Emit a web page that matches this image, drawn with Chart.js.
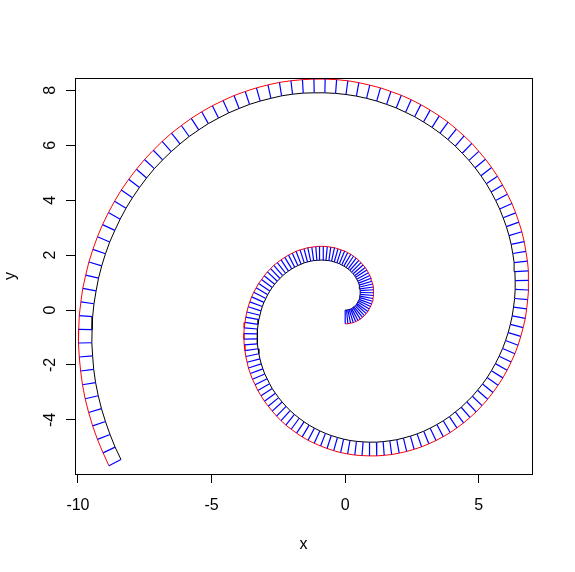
<!DOCTYPE html>
<html>
<head>
<meta charset="utf-8">
<script src="https://cdn.jsdelivr.net/npm/chart.js@4.4.1/dist/chart.umd.min.js"></script>
<style>
  html, body { margin: 0; padding: 0; background: #fff; }
  canvas { display: block; }
</style>
</head>
<body>
<canvas id="chart" width="575" height="572"></canvas>
<script>
// spiral points (black)
const spiralX = [
  0, 0.05, 0.10, 0.15, 0.20, 0.24, 0.29, 0.33, 0.37, 0.41,
  0.44, 0.47, 0.50, 0.52, 0.54, 0.55, 0.56, 0.56, 0.56, 0.55,
  0.54, 0.52, 0.50, 0.47, 0.43, 0.39, 0.35, 0.30, 0.24, 0.17,
  0.11, 0.03, -0.05, -0.13, -0.22, -0.31, -0.41, -0.51, -0.61, -0.72,
  -0.83, -0.95, -1.06, -1.18, -1.29, -1.41, -1.53, -1.65, -1.77, -1.89,
  -2.00, -2.12, -2.23, -2.34, -2.44, -2.54, -2.64, -2.73, -2.82, -2.90,
  -2.97, -3.04, -3.10, -3.15, -3.19, -3.23, -3.26, -3.28, -3.29, -3.29,
  -3.28, -3.26, -3.23, -3.19, -3.14, -3.08, -3.01, -2.92, -2.83, -2.73,
  -2.61, -2.49, -2.36, -2.21, -2.06, -1.90, -1.72, -1.54, -1.35, -1.15,
  -0.95, -0.74, -0.52, -0.29, -0.06, 0.18, 0.42, 0.67, 0.91, 1.17,
  1.42, 1.67, 1.93, 2.18, 2.44, 2.69, 2.94, 3.18, 3.43, 3.67,
  3.90, 4.12, 4.34, 4.55, 4.76, 4.95, 5.14, 5.31, 5.47, 5.62,
  5.76, 5.89, 6.00, 6.10, 6.18, 6.25, 6.30, 6.34, 6.36, 6.36,
  6.35, 6.32, 6.27, 6.21, 6.13, 6.03, 5.91, 5.78, 5.63, 5.46,
  5.28, 5.08, 4.86, 4.63, 4.38, 4.12, 3.84, 3.55, 3.25, 2.93,
  2.60, 2.26, 1.91, 1.55, 1.18, 0.80, 0.42, 0.03, -0.36, -0.76,
  -1.16, -1.57, -1.97, -2.38, -2.78, -3.18, -3.58, -3.97, -4.36, -4.74,
  -5.12, -5.48, -5.84, -6.18, -6.51, -6.83, -7.14, -7.43, -7.70, -7.96,
  -8.20, -8.42, -8.62, -8.81, -8.97, -9.11, -9.23, -9.32, -9.40, -9.45,
  -9.47, -9.48, -9.45, -9.41, -9.34, -9.24, -9.12, -8.97, -8.80, -8.61,
  -8.39
];
const spiralY = [
  0, 0.00, 0.01, 0.02, 0.04, 0.06, 0.09, 0.12, 0.16, 0.20,
  0.24, 0.29, 0.34, 0.39, 0.45, 0.51, 0.57, 0.64, 0.71, 0.77,
  0.84, 0.91, 0.98, 1.05, 1.12, 1.19, 1.25, 1.32, 1.38, 1.44,
  1.50, 1.55, 1.60, 1.64, 1.69, 1.72, 1.75, 1.78, 1.80, 1.81,
  1.82, 1.82, 1.81, 1.80, 1.78, 1.75, 1.72, 1.67, 1.62, 1.56,
  1.50, 1.42, 1.34, 1.25, 1.15, 1.05, 0.94, 0.82, 0.69, 0.56,
  0.42, 0.28, 0.13, -0.03, -0.19, -0.35, -0.52, -0.69, -0.87, -1.05,
  -1.23, -1.41, -1.59, -1.78, -1.96, -2.14, -2.33, -2.50, -2.68, -2.86,
  -3.03, -3.19, -3.35, -3.51, -3.66, -3.80, -3.94, -4.07, -4.19, -4.30,
  -4.40, -4.49, -4.57, -4.64, -4.70, -4.75, -4.78, -4.80, -4.81, -4.81,
  -4.79, -4.76, -4.72, -4.66, -4.59, -4.51, -4.41, -4.30, -4.17, -4.03,
  -3.88, -3.71, -3.54, -3.34, -3.14, -2.92, -2.69, -2.46, -2.21, -1.95,
  -1.68, -1.40, -1.11, -0.82, -0.52, -0.21, 0.11, 0.42, 0.75, 1.07,
  1.40, 1.73, 2.06, 2.39, 2.71, 3.04, 3.36, 3.68, 3.99, 4.30,
  4.60, 4.89, 5.18, 5.45, 5.71, 5.97, 6.21, 6.44, 6.65, 6.85,
  7.04, 7.20, 7.36, 7.49, 7.61, 7.71, 7.79, 7.85, 7.89, 7.91,
  7.91, 7.90, 7.86, 7.80, 7.71, 7.61, 7.49, 7.34, 7.18, 6.99,
  6.79, 6.56, 6.32, 6.05, 5.77, 5.47, 5.15, 4.81, 4.46, 4.09,
  3.71, 3.31, 2.90, 2.48, 2.05, 1.61, 1.16, 0.70, 0.23, -0.24,
  -0.71, -1.19, -1.67, -2.16, -2.64, -3.12, -3.59, -4.06, -4.53, -4.99,
  -5.44
];
// offset curve (red), one point per spiral point
const offsetX = [
  0, 0.10, 0.20, 0.30, 0.39, 0.48, 0.57, 0.65, 0.72, 0.79,
  0.85, 0.90, 0.95, 0.99, 1.02, 1.04, 1.06, 1.06, 1.06, 1.05,
  1.03, 1.00, 0.97, 0.92, 0.87, 0.81, 0.75, 0.67, 0.59, 0.51,
  0.41, 0.31, 0.21, 0.09, -0.02, -0.15, -0.27, -0.40, -0.54, -0.67,
  -0.82, -0.96, -1.10, -1.25, -1.40, -1.54, -1.69, -1.84, -1.98, -2.12,
  -2.26, -2.40, -2.54, -2.67, -2.79, -2.91, -3.03, -3.13, -3.24, -3.33,
  -3.42, -3.50, -3.57, -3.63, -3.68, -3.72, -3.75, -3.78, -3.79, -3.79,
  -3.78, -3.75, -3.72, -3.67, -3.62, -3.55, -3.47, -3.37, -3.27, -3.15,
  -3.02, -2.88, -2.73, -2.57, -2.40, -2.22, -2.02, -1.82, -1.61, -1.39,
  -1.16, -0.92, -0.68, -0.43, -0.17, 0.09, 0.36, 0.63, 0.91, 1.18,
  1.46, 1.74, 2.02, 2.30, 2.58, 2.86, 3.13, 3.40, 3.67, 3.93,
  4.18, 4.43, 4.67, 4.90, 5.12, 5.33, 5.53, 5.72, 5.90, 6.06,
  6.21, 6.35, 6.47, 6.57, 6.66, 6.74, 6.79, 6.83, 6.86, 6.86,
  6.85, 6.82, 6.76, 6.70, 6.61, 6.50, 6.38, 6.24, 6.07, 5.89,
  5.70, 5.48, 5.25, 5.00, 4.74, 4.45, 4.16, 3.85, 3.52, 3.18,
  2.83, 2.47, 2.10, 1.71, 1.32, 0.92, 0.51, 0.10, -0.32, -0.75,
  -1.17, -1.60, -2.03, -2.46, -2.89, -3.32, -3.74, -4.16, -4.57, -4.97,
  -5.37, -5.76, -6.13, -6.50, -6.85, -7.18, -7.51, -7.81, -8.10, -8.38,
  -8.63, -8.86, -9.08, -9.27, -9.44, -9.59, -9.71, -9.82, -9.89, -9.95,
  -9.97, -9.98, -9.95, -9.90, -9.83, -9.73, -9.60, -9.45, -9.27, -9.06,
  -8.84
];
const offsetY = [
  -0.50, -0.50, -0.48, -0.46, -0.42, -0.38, -0.33, -0.27, -0.20, -0.13,
  -0.05, 0.04, 0.13, 0.22, 0.32, 0.42, 0.53, 0.63, 0.74, 0.84,
  0.95, 1.05, 1.16, 1.26, 1.36, 1.46, 1.55, 1.64, 1.73, 1.81,
  1.89, 1.96, 2.03, 2.09, 2.15, 2.19, 2.23, 2.27, 2.29, 2.31,
  2.32, 2.32, 2.31, 2.29, 2.27, 2.23, 2.19, 2.14, 2.07, 2.00,
  1.92, 1.83, 1.73, 1.63, 1.51, 1.39, 1.25, 1.11, 0.97, 0.81,
  0.65, 0.48, 0.30, 0.12, -0.07, -0.26, -0.45, -0.65, -0.86, -1.06,
  -1.27, -1.48, -1.69, -1.90, -2.11, -2.31, -2.52, -2.72, -2.93, -3.12,
  -3.32, -3.50, -3.68, -3.86, -4.03, -4.19, -4.34, -4.48, -4.62, -4.74,
  -4.85, -4.95, -5.04, -5.12, -5.19, -5.24, -5.28, -5.30, -5.31, -5.31,
  -5.29, -5.26, -5.21, -5.15, -5.07, -4.98, -4.87, -4.75, -4.61, -4.46,
  -4.29, -4.11, -3.91, -3.71, -3.48, -3.25, -3.00, -2.74, -2.47, -2.19,
  -1.89, -1.59, -1.28, -0.96, -0.64, -0.30, 0.04, 0.38, 0.73, 1.08,
  1.43, 1.78, 2.14, 2.49, 2.85, 3.20, 3.54, 3.88, 4.22, 4.55,
  4.87, 5.19, 5.49, 5.78, 6.07, 6.34, 6.59, 6.84, 7.07, 7.28,
  7.48, 7.66, 7.82, 7.96, 8.09, 8.19, 8.28, 8.35, 8.39, 8.41,
  8.41, 8.39, 8.35, 8.29, 8.20, 8.09, 7.96, 7.81, 7.63, 7.44,
  7.22, 6.98, 6.72, 6.44, 6.14, 5.82, 5.48, 5.13, 4.76, 4.37,
  3.96, 3.55, 3.11, 2.67, 2.21, 1.75, 1.27, 0.79, 0.30, -0.20,
  -0.70, -1.20, -1.71, -2.22, -2.72, -3.23, -3.73, -4.22, -4.71, -5.20,
  -5.67
];
const xTicks = [-10, -5, 0, 5];
const yTicks = [-4, -2, 0, 2, 4, 6, 8];

const font = { family: '"Liberation Sans", Arial, Helvetica, sans-serif', size: 16 };

const spiral = spiralX.map((x, i) => ({ x: x, y: spiralY[i] }));
const offset = offsetX.map((x, i) => ({ x: x, y: offsetY[i] }));
// connector segments, broken by NaN so each pair is its own stroke
const segments = [];
spiralX.forEach((x, i) => {
  segments.push({ x: x, y: spiralY[i] });
  segments.push({ x: offsetX[i], y: offsetY[i] });
  segments.push({ x: NaN, y: NaN });
});

// box round the plot region, like R's box()
const boxPlugin = {
  id: 'box',
  afterDraw(chart) {
    const { ctx, chartArea: a } = chart;
    ctx.save();
    ctx.strokeStyle = '#000';
    ctx.lineWidth = 1;
    ctx.strokeRect(Math.round(a.left) + 0.5, Math.round(a.top) + 0.5,
      Math.round(a.right - a.left), Math.round(a.bottom - a.top));
    ctx.restore();
  }
};

new Chart(document.getElementById('chart'), {
  type: 'line',
  data: {
    datasets: [
      { data: segments, borderColor: '#0000ff', borderWidth: 1.2, pointRadius: 0, spanGaps: false, tension: 0, order: 0 },
      { data: offset, borderColor: '#ff0000', borderWidth: 1, pointRadius: 0, tension: 0, order: 1 },
      { data: spiral, borderColor: '#000000', borderWidth: 1, pointRadius: 0, tension: 0, order: 2 }
    ]
  },
  options: {
    responsive: false,
    animation: false,
    devicePixelRatio: 1,
    layout: { padding: { top: 78, right: 43, left: 0, bottom: 0 } },
    plugins: { legend: { display: false }, tooltip: { enabled: false } },
    scales: {
      x: {
        type: 'linear',
        min: -10.11,
        max: 6.99,
        afterBuildTicks: s => { s.ticks = xTicks.map(v => ({ value: v })); },
        afterFit: s => { s.height = 98; },
        grid: { drawOnChartArea: false, tickLength: 9, color: '#000', tickColor: '#000' },
        border: { display: true, color: '#000' },
        ticks: { color: '#000', font: font, padding: 13, maxRotation: 0, autoSkip: false },
        title: { display: true, text: 'x', color: '#000', font: font, padding: { top: 0, bottom: 18 } }
      },
      y: {
        type: 'linear',
        min: -5.97,
        max: 8.45,
        afterBuildTicks: s => { s.ticks = yTicks.map(v => ({ value: v })); },
        afterFit: s => { s.width = 75; },
        grid: { drawOnChartArea: false, tickLength: 9, color: '#000', tickColor: '#000' },
        border: { display: true, color: '#000' },
        ticks: { color: '#000', font: font, padding: 8, minRotation: 90, maxRotation: 90, crossAlign: 'center', autoSkip: false },
        title: { display: true, text: 'y', color: '#000', font: font, padding: { top: 1, bottom: 0 } }
      }
    }
  },
  plugins: [boxPlugin]
});
</script>
</body>
</html>
